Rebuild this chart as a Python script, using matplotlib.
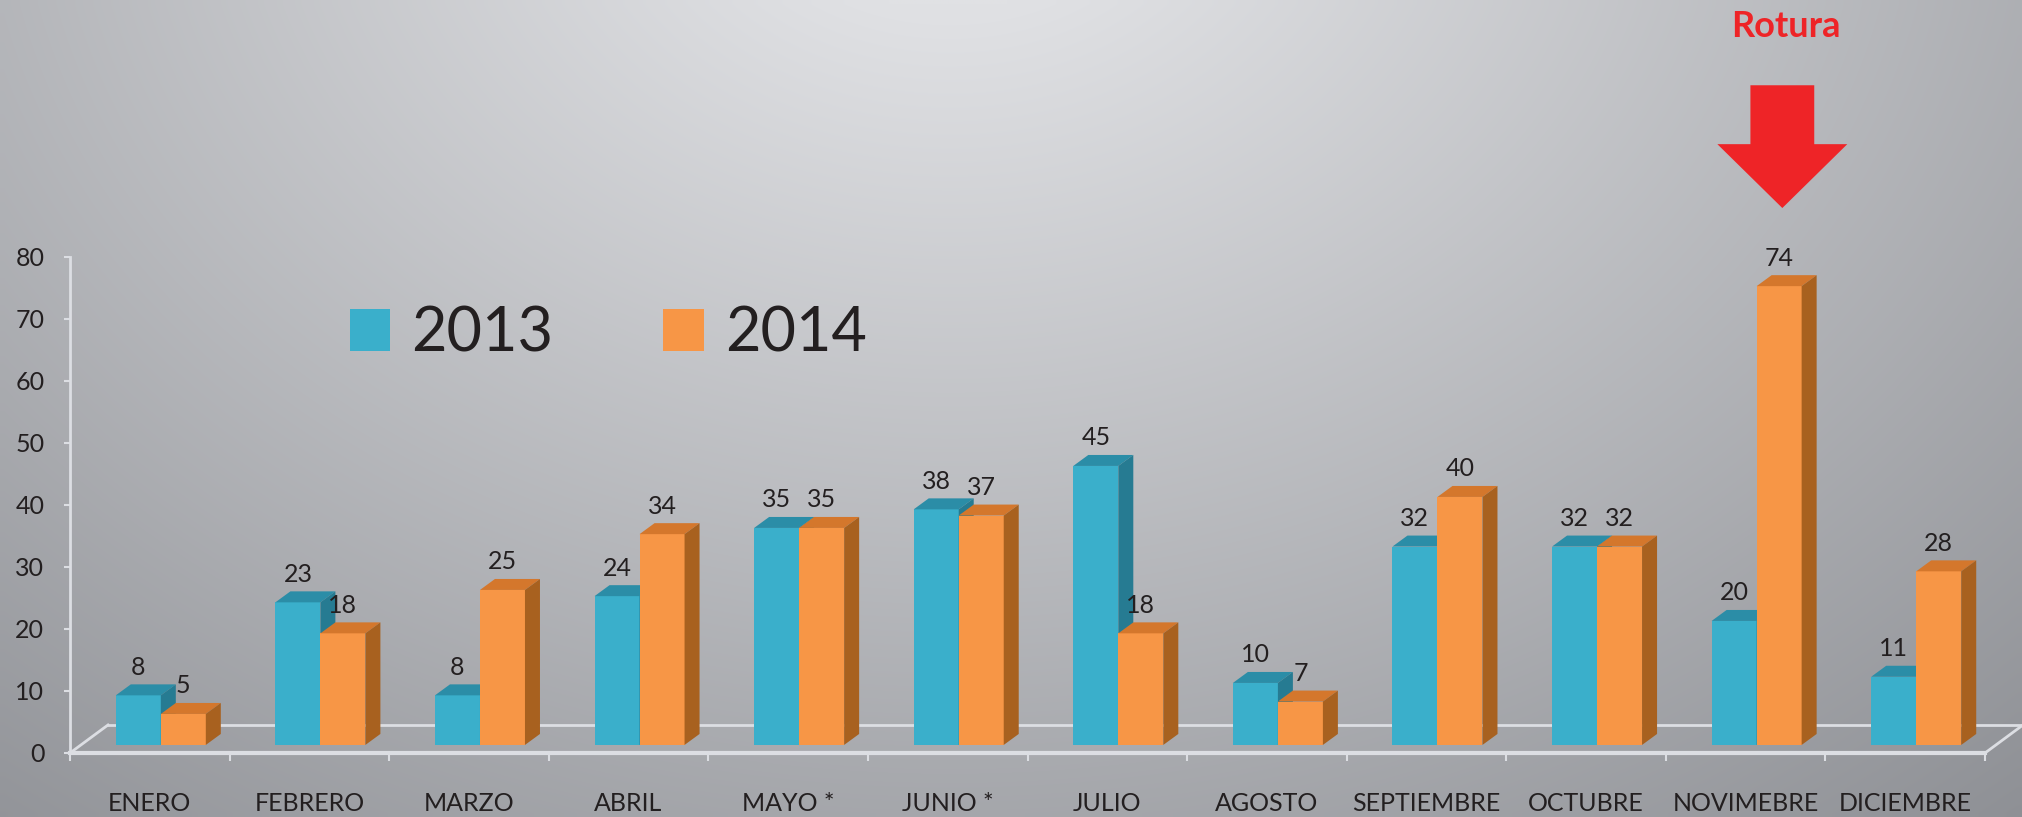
import numpy as np
import matplotlib.pyplot as plt
from matplotlib.patches import Polygon, Patch

plt.rcParams['font.family'] = ['Lato', 'DejaVu Sans']

# data
meses = ['ENERO', 'FEBRERO', 'MARZO', 'ABRIL', 'MAYO *', 'JUNIO *', 'JULIO',
         'AGOSTO', 'SEPTIEMBRE', 'OCTUBRE', 'NOVIMEBRE', 'DICIEMBRE']
v2013 = [8, 23, 8, 24, 35, 38, 45, 10, 32, 32, 20, 11]
v2014 = [5, 18, 25, 34, 35, 37, 18, 7, 40, 32, 74, 28]
yticks = [0, 10, 20, 30, 40, 50, 60, 70, 80]

# front, top, side colours
c2013 = ('#3aafcb', '#2b8da7', '#267b92')
c2014 = ('#f79646', '#d4772c', '#a8611f')
texto = '#231f20'
linea = '#dcdee3'
rojo = '#ee2427'

W, H = 2022, 817
fig = plt.figure(figsize=(W / 100, H / 100), dpi=100)

# background gradient
bg = fig.add_axes([0, 0, 1, 1])
bg.axis('off')
gy, gx = np.mgrid[0:H:100j, 0:W:240j]
d = np.sqrt(((gx - 950) / 1350) ** 2 + ((gy + 150) / 1050) ** 2)
t = np.clip((d - 0.15) / 1.1, 0, 1)
claro = np.array([224, 225, 228]) / 255
oscuro = np.array([140, 142, 147]) / 255
img = claro[None, None, :] + (oscuro - claro)[None, None, :] * t[..., None]
bg.imshow(img, extent=[0, W, H, 0], aspect='auto', interpolation='bilinear')
bg.set_xlim(0, W)
bg.set_ylim(H, 0)

ax = fig.add_axes([70 / W, 64 / H, 1915 / W, 496 / H])
ax.patch.set_alpha(0)
ax.set_xlim(-0.5, 11.5)
ax.set_ylim(0, 80)

# 3d geometry (category units / value units)
w = 0.282
sx, sy = 0.069, 1.3       # bars sit a little behind the front edge
dx, dy = 0.094, 1.77      # bar depth
fdx, fdy = 0.238, 4.52    # floor depth


def bar3d(x0, v, cols):
    b = sy
    front = [(x0, b), (x0 + w, b), (x0 + w, b + v), (x0, b + v)]
    top = [(x0, b + v), (x0 + w, b + v), (x0 + w + dx, b + v + dy), (x0 + dx, b + v + dy)]
    side = [(x0 + w, b), (x0 + w + dx, b + dy), (x0 + w + dx, b + v + dy), (x0 + w, b + v)]
    for pts, c in zip([front, top, side], cols):
        ax.add_patch(Polygon(pts, closed=True, facecolor=c, edgecolor='none',
                             clip_on=False, zorder=3))
    ax.text(x0 + w / 2, v + 4.6, str(v), ha='center', va='baseline',
            fontsize=18, color=texto, zorder=4)


# floor
ax.plot([-0.5 + fdx, 11.5 + fdx], [fdy, fdy], color=linea, lw=2, clip_on=False, zorder=1)
ax.plot([-0.5, -0.5 + fdx], [0, fdy], color=linea, lw=2, clip_on=False, zorder=1)
ax.plot([11.5, 11.5 + fdx], [0, fdy], color=linea, lw=2, clip_on=False, zorder=1)

for i in range(len(meses)):
    bar3d(i - w + sx, v2013[i], c2013)
    bar3d(i + sx, v2014[i], c2014)

# axes styling
for s in ['top', 'right']:
    ax.spines[s].set_visible(False)
ax.spines['left'].set_color(linea)
ax.spines['left'].set_linewidth(2)
ax.spines['bottom'].set_color(linea)
ax.spines['bottom'].set_linewidth(3)

ax.set_yticks(yticks)
ax.tick_params(axis='y', length=4.5, width=1.5, color=linea, pad=14,
               labelsize=18, labelcolor=texto)
ax.set_xticks(range(len(meses)), meses)
ax.set_xticks(np.arange(-0.5, 12, 1), minor=True)
ax.tick_params(axis='x', which='major', length=0, pad=28, labelsize=18, labelcolor=texto)
ax.tick_params(axis='x', which='minor', length=6, width=1.5, color=linea)

# legend
handles = [Patch(facecolor=c2013[0]), Patch(facecolor=c2014[0])]
ax.legend(handles, ['2013', '2014'], loc='center left',
          bbox_to_anchor=((349.6 - 70) / 1915, 0.845), ncol=2, frameon=False,
          fontsize=44, handlelength=0.66, handleheight=0.68, handletextpad=0.35,
          columnspacing=1.8, borderpad=0, borderaxespad=0, labelcolor=texto)

# "Rotura" arrow over the highest 2014 bar
k = int(np.argmax(v2014))
xc = k + sx + w / 2 + 0.02
arrow = [(xc - 0.2, 107.7), (xc + 0.2, 107.7), (xc + 0.2, 98.2), (xc + 0.407, 98.2),
         (xc, 87.9), (xc - 0.407, 98.2), (xc - 0.2, 98.2)]
ax.add_patch(Polygon(arrow, closed=True, facecolor=rojo, edgecolor='none', clip_on=False))
ax.text(xc + 0.02, 117.1, 'Rotura', ha='center', va='center', fontsize=26,
        fontweight='bold', color=rojo)

fig.savefig('out.png', dpi=100)
